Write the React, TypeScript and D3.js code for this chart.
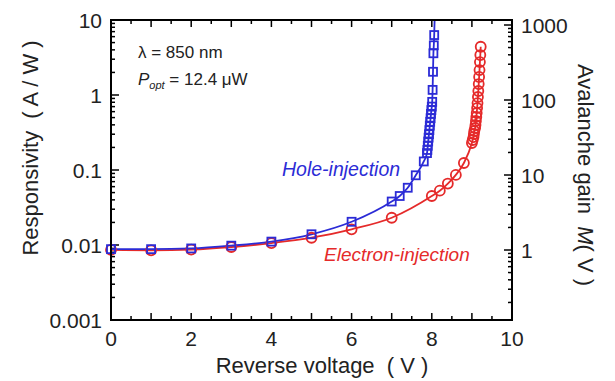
import React from 'react';
import * as d3 from 'd3';

// hole-injection (blue squares)
const holeV = [0, 1, 2, 3, 4, 5, 6, 7, 7.2, 7.4, 7.6, 7.8, 7.88, 7.89, 7.9, 7.91, 7.92, 7.93, 7.94, 7.95, 7.96, 7.97, 7.98, 7.99, 8.0, 8.01, 8.02, 8.03, 8.04, 8.05, 8.06];
const holeR = [0.0088, 0.0088, 0.009, 0.0098, 0.0111, 0.0139, 0.0204, 0.038, 0.045, 0.058, 0.085, 0.13, 0.168, 0.185, 0.21, 0.24, 0.27, 0.3, 0.34, 0.39, 0.44, 0.49, 0.56, 0.63, 0.7, 0.81, 1.17, 2.04, 3.6, 4.6, 6.3];
// fitted curve continues up to the frame
const holeFitEndV = 8.07;
const holeFitEndR = 10;

// electron-injection (red circles)
const elecV = [0, 1, 2, 3, 4, 5, 6, 7, 8.0, 8.2, 8.4, 8.6, 8.8, 9.0, 9.02, 9.04, 9.05, 9.06, 9.08, 9.09, 9.1, 9.11, 9.12, 9.13, 9.14, 9.15, 9.16, 9.17, 9.18, 9.19, 9.2, 9.21, 9.22];
const elecR = [0.0086, 0.0085, 0.0087, 0.0094, 0.0106, 0.0125, 0.0162, 0.0231, 0.045, 0.053, 0.066, 0.086, 0.124, 0.229, 0.251, 0.275, 0.302, 0.331, 0.363, 0.398, 0.45, 0.51, 0.575, 0.67, 0.78, 0.94, 1.13, 1.4, 1.74, 2.15, 2.75, 3.41, 4.4];

const xTicks = [0, 2, 4, 6, 8, 10];
const leftTicks = [10, 1, 0.1, 0.01, 0.001];
const leftTickLabels = ['10', '1', '0.1', '0.01', '0.001'];
const rightTicks = [1000, 100, 10, 1];
const rightTickLabels = ['1000', '100', '10', '1'];

const BLUE = '#2b2bd6';
const RED = '#e52a2a';
const FONT = 'Liberation Sans, Arial, sans-serif';

export default function App() {
  const left = 111, right = 512, top = 20, bottom = 320;

  const x = d3.scaleLinear().domain([0, 10]).range([left, right]);
  const y = d3.scaleLog().domain([0.001, 10]).range([bottom, top]);
  // right axis: M = 1 sits a little below R = 0.01
  const yM = d3.scaleLog().domain([0.1166, 1166]).range([bottom, top]);

  const holePts = holeV.map((v, i) => [v, holeR[i]] as [number, number]);
  const elecPts = elecV.map((v, i) => [v, elecR[i]] as [number, number]);
  const holeFit = [...holePts, [holeFitEndV, holeFitEndR] as [number, number]];

  const line = d3.line<[number, number]>()
    .x((d) => x(d[0]))
    .y((d) => y(d[1]))
    .curve(d3.curveMonotoneX);

  const xMinor = d3.range(0, 10.01, 0.5);

  const logMinor = (lo: number, hi: number) => {
    const out: { v: number; major: boolean }[] = [];
    for (let e = Math.floor(Math.log10(lo)); e <= Math.ceil(Math.log10(hi)); e++) {
      for (let k = 1; k <= 9; k++) {
        const v = k * Math.pow(10, e);
        if (v >= lo * 0.999 && v <= hi * 1.001) out.push({ v, major: k === 1 });
      }
    }
    return out;
  };
  const leftMinor = logMinor(0.001, 10);
  const rightMinor = logMinor(0.1166, 1166);

  return (
    <svg width={615} height={381} style={{ position: 'absolute', left: 0, top: 0, background: '#fff' }} fontFamily={FONT}>
      {/* x ticks, bottom and top, inward */}
      {xMinor.map((v, i) => {
        const len = Math.abs(v - Math.round(v)) < 1e-6 ? 7 : 4;
        return (
          <g key={`xt_${i}`} stroke="#000" strokeWidth={1.5}>
            <line x1={x(v)} x2={x(v)} y1={bottom} y2={bottom - len} />
            <line x1={x(v)} x2={x(v)} y1={top} y2={top + len} />
          </g>
        );
      })}
      {leftMinor.map((t, i) => (
        <line key={`lt_${i}`} x1={left} x2={left + (t.major ? 8 : 4)} y1={y(t.v)} y2={y(t.v)} stroke="#000" strokeWidth={1.5} />
      ))}
      {rightMinor.map((t, i) => (
        <line key={`rt_${i}`} x1={right} x2={right - (t.major ? 8 : 4)} y1={yM(t.v)} y2={yM(t.v)} stroke="#000" strokeWidth={1.5} />
      ))}

      {/* curves */}
      <path d={line(elecPts) || ''} fill="none" stroke={RED} strokeWidth={1.8} />
      <path d={line(holeFit) || ''} fill="none" stroke={BLUE} strokeWidth={1.8} />

      {elecPts.map((d, i) => (
        <circle key={`c_${i}`} cx={x(d[0])} cy={y(d[1])} r={5} fill="none" stroke={RED} strokeWidth={1.8} />
      ))}
      {holePts.map((d, i) => (
        <rect key={`s_${i}`} x={x(d[0]) - 4} y={y(d[1]) - 4} width={8} height={8} fill="none" stroke={BLUE} strokeWidth={1.8} />
      ))}

      {/* frame */}
      <rect x={left} y={top} width={right - left} height={bottom - top} fill="none" stroke="#000" strokeWidth={2} />

      {/* tick labels */}
      {xTicks.map((v, i) => (
        <text key={`xl_${i}`} x={x(v)} y={bottom + 26} textAnchor="middle" fontSize={21} fill="#222">{v}</text>
      ))}
      {leftTicks.map((v, i) => (
        <text key={`yl_${i}`} x={left - 9} y={y(v) + 8} textAnchor="end" fontSize={21} fill="#222">{leftTickLabels[i]}</text>
      ))}
      {rightTicks.map((v, i) => (
        <text key={`ml_${i}`} x={right + 9} y={yM(v) + 8} textAnchor="start" fontSize={21} fill="#222">{rightTickLabels[i]}</text>
      ))}

      {/* axis titles */}
      <text x={322} y={373} textAnchor="middle" fontSize={22} fill="#222" xmlSpace="preserve">Reverse voltage  ( V )</text>
      <text transform={`translate(38, 148) rotate(-90)`} textAnchor="middle" fontSize={22} fill="#222" xmlSpace="preserve">Responsivity  ( A / W )</text>
      <text transform={`translate(578, 175) rotate(90)`} textAnchor="middle" fontSize={22} fill="#222" xmlSpace="preserve">
        Avalanche gain  <tspan fontStyle="italic">M</tspan>( V )
      </text>

      {/* annotations */}
      <text x={138} y={58} fontSize={17} fill="#222">λ = 850 nm</text>
      <text x={138} y={85} fontSize={17} fill="#222">
        <tspan fontStyle="italic">P</tspan>
        <tspan fontStyle="italic" fontSize={11} dy={4}>opt</tspan>
        <tspan dy={-4}> = 12.4 μW</tspan>
      </text>
      <text x={282} y={176} fontSize={19.5} fontStyle="italic" fill={BLUE}>Hole-injection</text>
      <text x={324} y={261} fontSize={19} fontStyle="italic" fill={RED}>Electron-injection</text>
    </svg>
  );
}
